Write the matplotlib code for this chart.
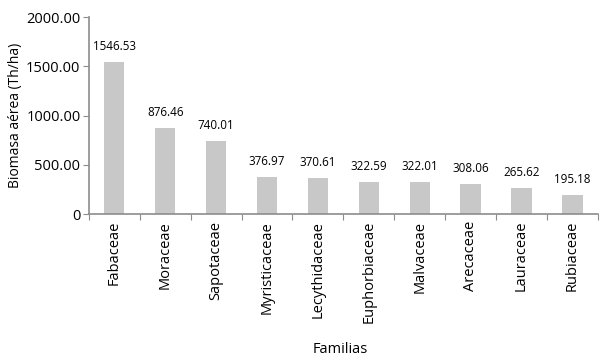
import matplotlib
matplotlib.use("Agg")
import matplotlib.pyplot as plt
import numpy as np

familias = ["Fabaceae", "Moraceae", "Sapotaceae", "Myristicaceae", "Lecythidaceae",
            "Euphorbiaceae", "Malvaceae", "Arecaceae", "Lauraceae", "Rubiaceae"]
biomasa = [1546.53, 876.46, 740.01, 376.97, 370.61, 322.59, 322.01, 308.06, 265.62, 195.18]
y_ticks = [0, 500, 1000, 1500, 2000]
y_tick_labels = ["0", "500.00", "1000.00", "1500.00", "2000.00"]

plt.rcParams["font.family"] = ["Open Sans", "DejaVu Sans"]
AXIS_COLOR = "#8c8c8c"

fig = plt.figure(figsize=(6.04, 3.64), dpi=100)
ax = fig.add_axes([0.147, 0.412, 0.843, 0.541])

x = np.arange(len(familias))
ax.bar(x, biomasa, width=0.4, color="#c8c8c8")

for xi, v in zip(x, biomasa):
    ax.text(xi, v + 90, f"{v:.2f}", ha="center", va="bottom", fontsize=8.4)

ax.set_xlim(-0.5, len(familias) - 0.5)
ax.set_ylim(0, 2000)
ax.set_yticks(y_ticks)
ax.set_yticklabels(y_tick_labels, fontsize=10.5)

# ticks at category boundaries, labels at centres
ax.set_xticks(np.arange(len(familias) + 1) - 0.5)
ax.set_xticklabels([])
ax.set_xticks(x, minor=True)
ax.set_xticklabels(familias, minor=True, rotation=90, fontsize=10.5)
ax.tick_params(axis="x", which="minor", length=0, pad=5)
ax.tick_params(axis="x", which="major", length=4, color=AXIS_COLOR)
ax.tick_params(axis="y", length=4, color=AXIS_COLOR, pad=2)

for side in ["top", "right"]:
    ax.spines[side].set_visible(False)
for side in ["left", "bottom"]:
    ax.spines[side].set_color(AXIS_COLOR)
    ax.spines[side].set_linewidth(1.2)

ax.set_ylabel("Biomasa aérea (Th/ha)", fontsize=10, labelpad=2)
fig.text(0.563, 0.04, "Familias", ha="center", va="center", fontsize=10.5)

fig.savefig("out.png", dpi=100)
